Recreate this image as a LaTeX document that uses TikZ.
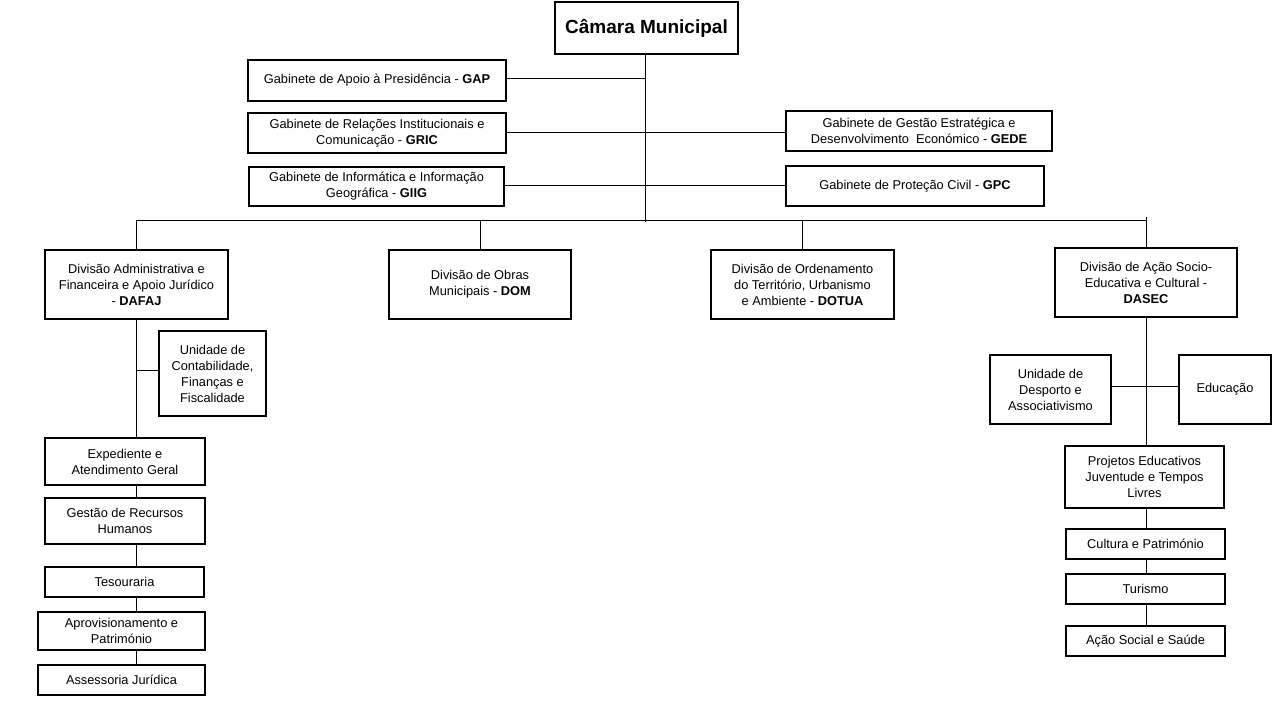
\documentclass[tikz,border=0pt]{standalone}
\usepackage{fontspec}
\setmainfont{Liberation Sans}
\begin{document}
\begin{tikzpicture}[x=1pt,y=-1pt,
  box/.style={draw, line width=2.6pt, align=center, inner sep=0pt, font=\fontsize{12.8}{16}\selectfont},
  link/.style={line width=0.9pt}]
\useasboundingbox[fill=white] (0,0) rectangle (1280,720);
% top
\node[box, minimum width=183, minimum height=52, font=\bfseries\fontsize{19}{22}\selectfont] (top) at (646.5,28) {Câmara Municipal};
% gabinetes
\node[box, minimum width=258, minimum height=41] (gap) at (377,80.5) {Gabinete de Apoio à Presidência - \textbf{GAP}};
\node[box, minimum width=258, minimum height=40] (gric) at (377,133) {Gabinete de Relações Institucionais e\\Comunicação - \textbf{GRIC}};
\node[box, minimum width=255, minimum height=39] (giig) at (376.5,186.5) {Gabinete de Informática e Informação\\Geográfica - \textbf{GIIG}};
\node[box, minimum width=266, minimum height=40] (gede) at (919,131) {Gabinete de Gestão Estratégica e\\Desenvolvimento\ \ Económico - \textbf{GEDE}};
\node[box, minimum width=258, minimum height=40] (gpc) at (915,186) {Gabinete de Proteção Civil - \textbf{GPC}};
% divisions
\node[box, minimum width=183, minimum height=69] (dafaj) at (136.5,284.5) {Divisão Administrativa e\\Financeira e Apoio Jurídico\\- \textbf{DAFAJ}};
\node[box, minimum width=182, minimum height=69] (dom) at (480,284.5) {Divisão de Obras\\Municipais - \textbf{DOM}};
\node[box, minimum width=183, minimum height=69] (dotua) at (802.5,284.5) {Divisão de Ordenamento\\do Território, Urbanismo\\e Ambiente - \textbf{DOTUA}};
\node[box, minimum width=182, minimum height=69] (dasec) at (1146,282.5) {Divisão de Ação Socio-\\Educativa e Cultural -\\\textbf{DASEC}};
% left column
\node[box, minimum width=107, minimum height=85] (ucff) at (212.5,373.5) {Unidade de\\Contabilidade,\\Finanças e\\Fiscalidade};
\node[box, minimum width=160, minimum height=47] (exp) at (125,461.5) {Expediente e\\Atendimento Geral};
\node[box, minimum width=160, minimum height=46] (grh) at (125,521) {Gestão de Recursos\\Humanos};
\node[box, minimum width=159, minimum height=30] (tes) at (124.5,582) {Tesouraria};
\node[box, minimum width=167, minimum height=38] (apr) at (121.5,631) {Aprovisionamento e\\Património};
\node[box, minimum width=167, minimum height=30] (ass) at (121.5,680) {Assessoria Jurídica};
% right column
\node[box, minimum width=121, minimum height=69] (desp) at (1050.5,389.5) {Unidade de\\Desporto e\\Associativismo};
\node[box, minimum width=92, minimum height=69] (edu) at (1225,389.5) {Educação};
\node[box, minimum width=159, minimum height=62] (proj) at (1144.5,477) {Projetos Educativos\\Juventude e Tempos\\Livres};
\node[box, minimum width=159, minimum height=30] (cult) at (1145.5,544) {Cultura e Património};
\node[box, minimum width=159, minimum height=30] (tur) at (1145.5,589) {Turismo};
\node[box, minimum width=159, minimum height=30] (acao) at (1145.5,641) {Ação Social e Saúde};
% connectors
\coordinate (busL) at (136.5,220);
\coordinate (busR) at (1146,220);
\coordinate (trunk) at (645,222);
\draw[link] (top.south -| trunk) -- (trunk);
\draw[link] ([yshift=2]gap.east) -- ([yshift=2]gap.east -| trunk);
\draw[link] ([yshift=1]gric.east) -- ([yshift=1]gric.east -| gede.west);
\draw[link] ([yshift=1.5]giig.east) -- ([yshift=1.5]giig.east -| gpc.west);
\draw[link] (busL) -- (busR);
\draw[link] (dafaj.north |- busL) -- (dafaj.north);
\draw[link] (dom.north |- busL) -- (dom.north);
\draw[link] (dotua.north |- busL) -- (dotua.north);
\draw[link] ([yshift=3]busR) -- (dasec.north);
% left column links
\draw[link] (dafaj.south) -- (exp.north -| dafaj.south);
\draw[link] ([yshift=3]dafaj.south |- ucff.west) -- ([yshift=3]ucff.west);
\draw[link] (exp.south -| dafaj.south) -- (grh.north -| dafaj.south);
\draw[link] (grh.south -| dafaj.south) -- (tes.north -| dafaj.south);
\draw[link] (tes.south -| dafaj.south) -- (apr.north -| dafaj.south);
\draw[link] (apr.south -| dafaj.south) -- (ass.north -| dafaj.south);
% right column links
\draw[link] (dasec.south) -- (proj.north -| dasec.south);
\draw[link] ([yshift=3.5]desp.east) -- ([yshift=3.5]desp.east -| edu.west);
\draw[link] (proj.south -| dasec.south) -- (cult.north -| dasec.south);
\draw[link] (cult.south -| dasec.south) -- (tur.north -| dasec.south);
\draw[link] (tur.south -| dasec.south) -- (acao.north -| dasec.south);
\end{tikzpicture}
\end{document}
